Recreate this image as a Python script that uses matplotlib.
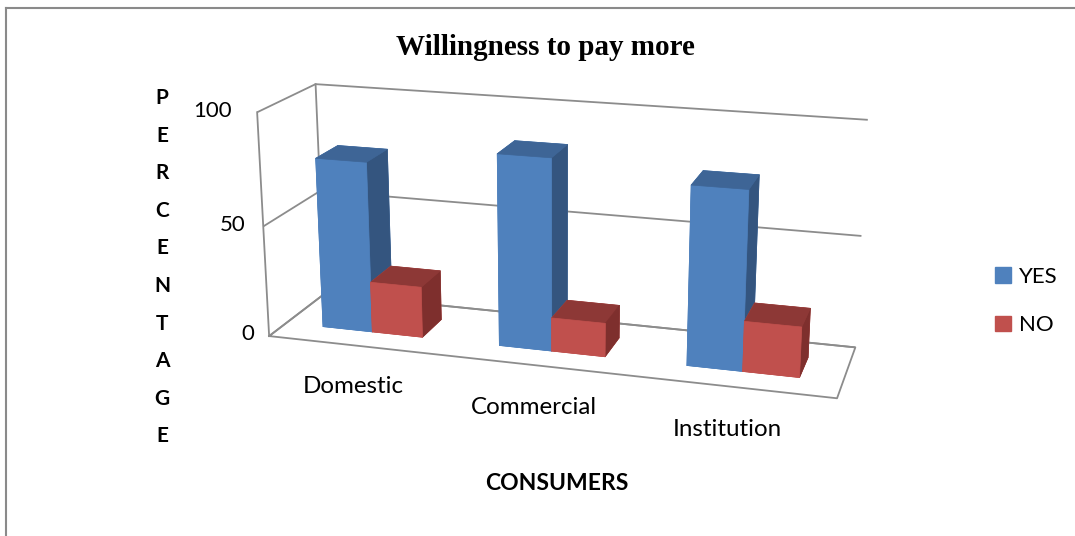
import matplotlib.pyplot as plt
from matplotlib.patches import Patch
from matplotlib.lines import Line2D

# data
categories = ['Domestic', 'Commercial', 'Institution']
series = ['YES', 'NO']
yes_vals = [77, 85, 78]
no_vals = [23, 15, 22]
z_ticks = [0, 50, 100]
ylabel_text = 'PERCENTAGE'

# excel style face colours: front, top, right side
blue = {'front': '#4F81BD', 'top': '#3E6596', 'side': '#34557F'}
red = {'front': '#C0504D', 'top': '#8D3836', 'side': '#7E2F2D'}
grid_col = '#8c8c8c'
font = 'Lato'

fig = plt.figure(figsize=(10.75, 5.36), dpi=100)

# chart border (only top and left edges are inside the crop)
x0, ytop = 6 / 1075, 1 - 8 / 536
fig.add_artist(Line2D([x0, x0], [0, ytop], color='#8a8a8a', lw=1.5))
fig.add_artist(Line2D([x0, 1], [ytop, ytop], color='#8a8a8a', lw=1.5))

ax = fig.add_axes([0.222, -0.03, 0.5814, 1.166], projection='3d',
                  computed_zorder=False)
ax.set_proj_type('persp', focal_length=0.5)
ax.view_init(elev=17, azim=-73.5)
ax.set_box_aspect((630, 150, 255), zoom=1.0)
ax.set_xlim(0, 3)
ax.set_ylim(0, 1)
ax.set_zlim(0, 100)
ax.set_facecolor('none')
for axis in (ax.xaxis, ax.yaxis, ax.zaxis):
    axis.set_pane_color((1, 1, 1, 0))
    axis.pane.set_edgecolor('none')
    axis.line.set_color('none')
    axis._axinfo['tick']['inward_factor'] = 0
    axis._axinfo['tick']['outward_factor'] = 0
ax.set_xticks([])
ax.set_yticks([])
ax.set_zticks(z_ticks)
ax.set_zticklabels([])
for t in ax.zaxis.get_major_ticks():
    t.label1.set_visible(False)
    t.label2.set_visible(False)
ax.zaxis._axinfo['grid'].update(color=grid_col, linewidth=1.3, linestyle='-')

# floor outline and the two vertical wall edges
ax.plot([0, 3, 3, 0, 0], [0, 0, 1, 1, 0], [0, 0, 0, 0, 0], color=grid_col, lw=1.3, zorder=1)
ax.plot([0, 0], [0, 0], [0, 100], color=grid_col, lw=1.3, zorder=1)
ax.plot([0, 0], [1, 1], [0, 100], color=grid_col, lw=1.3, zorder=1)

# bars: gap width 150%, gap depth 150%
bw = 1 / 3.5
bd = 0.4
for i, (yv, nv) in enumerate(zip(yes_vals, no_vals)):
    for j, (v, c) in enumerate([(yv, blue), (nv, red)]):
        # face order in bar3d: bottom, top, front, back, left, right
        faces = [c['front'], c['top'], c['front'], c['front'], c['front'], c['side']]
        ax.bar3d(i + 0.75 * bw + j * bw, 0.3, 0, bw, bd, v, color=faces,
                 edgecolor=faces, linewidth=0.5, shade=False, zorder=3)

tick_pad = [0.085, 0.1, 0.14]
for v, p in zip(z_ticks, tick_pad):
    ax.text(-p, 0, v, str(v), ha='right', va='center', fontsize=16, family=font)
for i, cat in enumerate(categories):
    ax.text(i + 0.47, 0, -19, cat, ha='center', va='center', fontsize=17.4, family=font)

fig.text(0.507, 0.912, 'Willingness to pay more', ha='center', va='center',
         fontsize=21, fontweight='bold', family='Liberation Serif')
for k, ch in enumerate(ylabel_text):
    fig.text(162 / 1075, 1 - (98 + k * 37.6) / 536, ch, ha='center', va='center',
             fontsize=15, fontweight='bold', family=font)
fig.text(557 / 1075, 1 - 483 / 536, 'CONSUMERS', ha='center', va='center',
         fontsize=16.5, fontweight='bold', family=font)

handles = [Patch(color=blue['front']), Patch(color=red['front'])]
fig.legend(handles, series, loc='center left', bbox_to_anchor=(995 / 1075, 1 - 301 / 536),
           frameon=False, prop={'family': font, 'size': 16}, handlelength=0.7,
           handleheight=0.7, handletextpad=0.4, labelspacing=1.3,
           borderaxespad=0, borderpad=0)

fig.savefig('out.png', dpi=100)
